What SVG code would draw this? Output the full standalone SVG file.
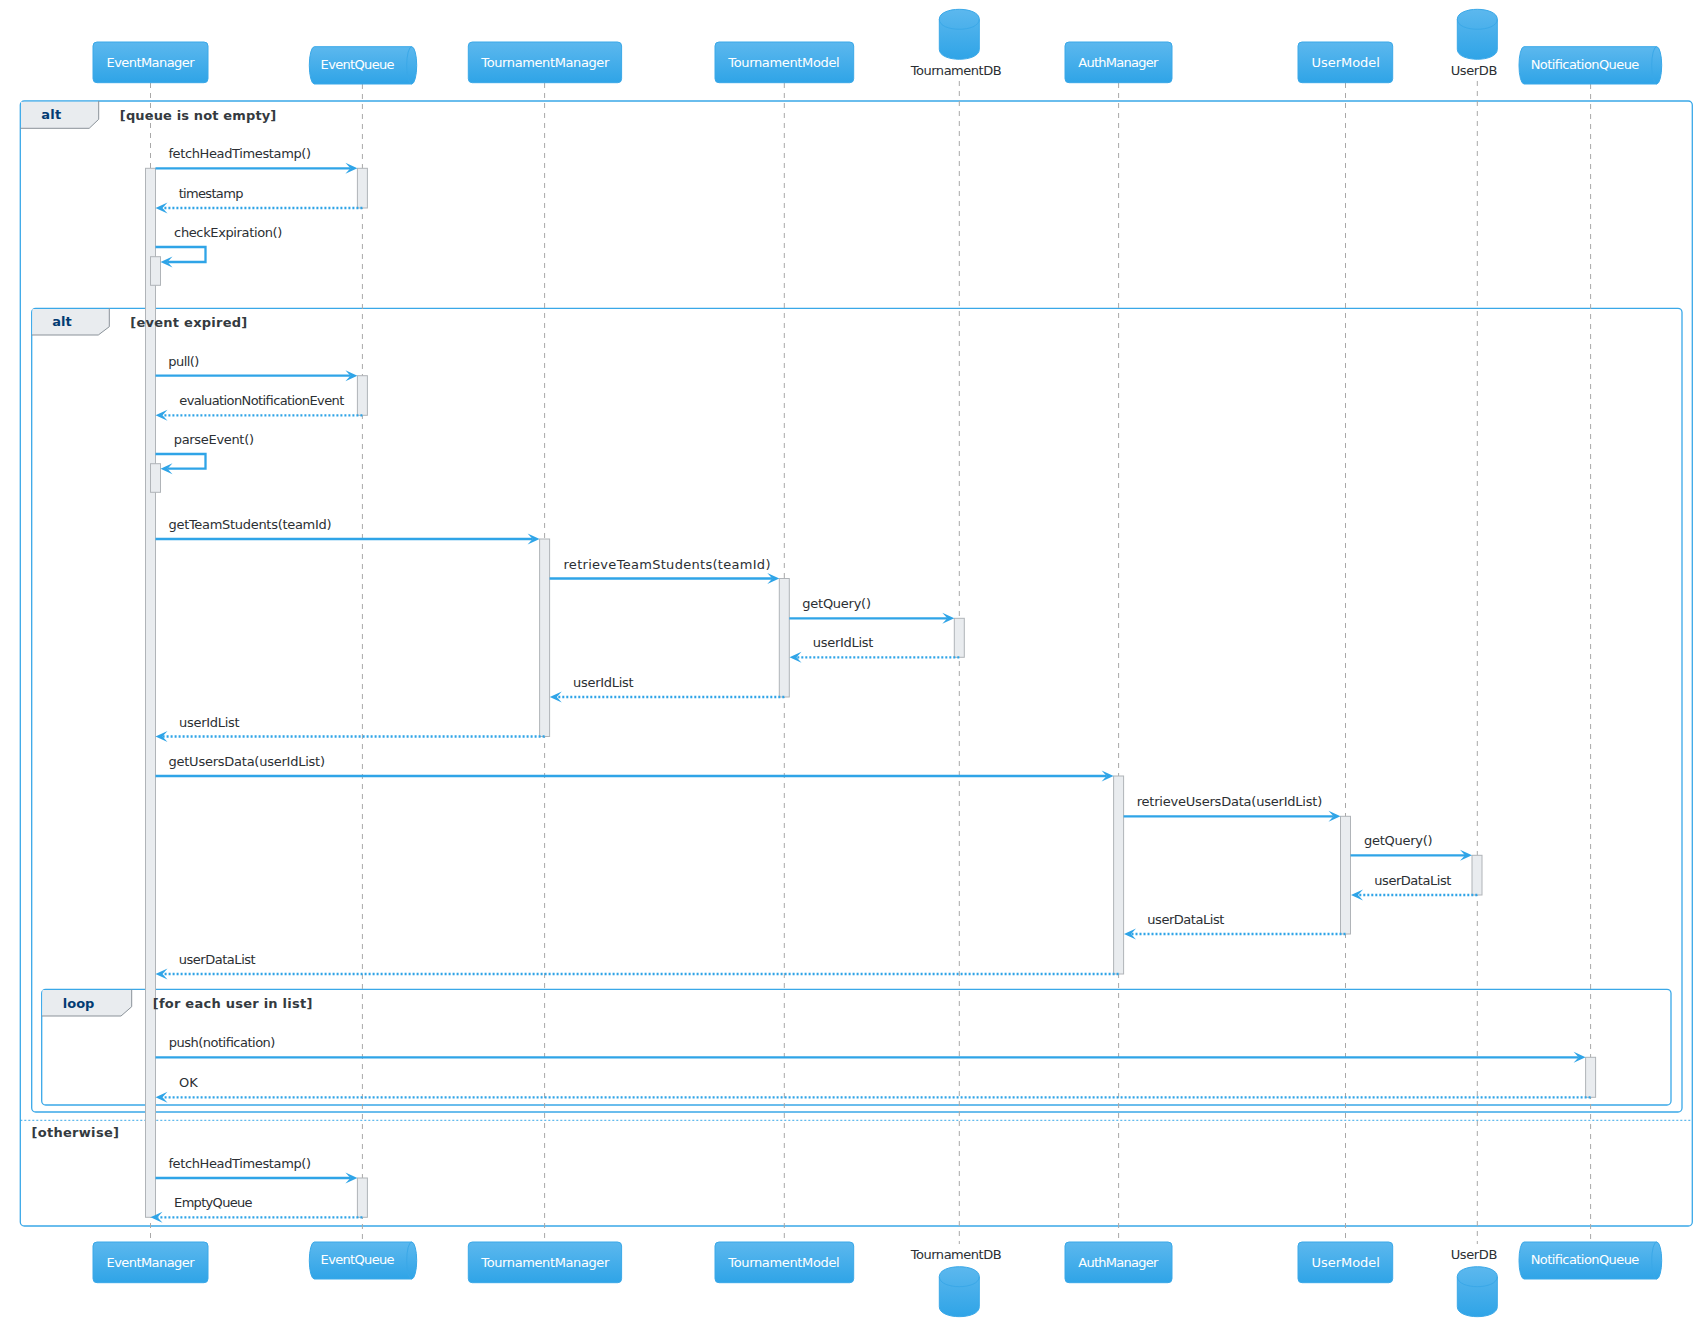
<svg xmlns="http://www.w3.org/2000/svg" width="1704" height="1337" viewBox="0 0 1704 1337">
<defs>
<linearGradient id="pg" x1="0" y1="0" x2="0" y2="1">
<stop offset="0" stop-color="#5cb8ee"/>
<stop offset="1" stop-color="#2fa4e7"/>
</linearGradient>
<marker id="ah" markerUnits="userSpaceOnUse" markerWidth="13" markerHeight="12" refX="5" refY="5.5" orient="auto" overflow="visible">
<path d="M0,0 L12,5.5 L0,11 L5,5.5 Z" fill="#2fa4e7"/>
</marker>
<style>
text{font-family:"DejaVu Sans","Liberation Sans",sans-serif;}
.m{font-size:13px;fill:#2b2f33;}
.pn{font-size:13px;fill:#ffffff;text-anchor:middle;}
.dn{font-size:13px;fill:#2b2f33;}
.fk{font-size:13px;font-weight:bold;fill:#033c73;}
.fg{font-size:13px;font-weight:bold;fill:#343a40;}
.box{fill:url(#pg);stroke:#3aa8e8;stroke-width:1;}
.inner{fill:none;stroke:#3aa8e8;stroke-width:1;}
.life{stroke:#a8a8a8;stroke-width:1;stroke-dasharray:5,5;fill:none;}
.act{fill:#e9ecef;stroke:#b0b4b8;stroke-width:1;}
.msg{stroke:#2fa4e7;stroke-width:2.3;fill:none;marker-end:url(#ah);}
.ret{stroke:#2fa4e7;stroke-width:2.3;fill:none;stroke-dasharray:2,2;marker-end:url(#ah);}
.frame{fill:none;stroke:#3aa8e8;stroke-width:1.3;}
.tab{fill:#e9ecef;stroke:none;}
.tabl{fill:none;stroke:#8a9299;stroke-width:1;}
.sep{stroke:#3aa8e8;stroke-width:1;stroke-dasharray:2,2;}
</style>
</defs>
<rect width="1704" height="1337" fill="#ffffff"/>

<g id="frames">
<rect class="frame" x="20.3" y="101" width="1672" height="1125" rx="4"/>
<polygon class="tab" points="21,101.7 98.7,101.7 98.7,119.3 89.2,128.3 21,128.3"/>
<path class="tabl" d="M20.3,128.3 H89.2 L98.7,119.3 V101"/>

<rect class="frame" x="31.7" y="308.3" width="1650.3" height="803.7" rx="4"/>
<polygon class="tab" points="32.4,309 109.3,309 109.3,326.7 98.3,335 32.4,335"/>
<path class="tabl" d="M31.7,335 H98.3 L109.3,326.7 V308.3"/>

<rect class="frame" x="41.7" y="989.3" width="1629.3" height="115.7" rx="4"/>
<polygon class="tab" points="42.4,990 131.7,990 131.7,1006.7 121,1016 42.4,1016"/>
<path class="tabl" d="M41.7,1016 H121 L131.7,1006.7 V989.3"/>

<line class="sep" x1="20.3" y1="1120.3" x2="1692.3" y2="1120.3"/>
</g>

<g id="lifelines">
<line class="life" x1="150.5" y1="83" x2="150.5" y2="1242"/>
<line class="life" x1="362.4" y1="84" x2="362.4" y2="1242"/>
<line class="life" x1="544.6" y1="83" x2="544.6" y2="1242"/>
<line class="life" x1="784.3" y1="83" x2="784.3" y2="1242"/>
<line class="life" x1="959.3" y1="81" x2="959.3" y2="1244"/>
<line class="life" x1="1118.6" y1="83" x2="1118.6" y2="1242"/>
<line class="life" x1="1345.5" y1="83" x2="1345.5" y2="1242"/>
<line class="life" x1="1477.3" y1="81" x2="1477.3" y2="1244"/>
<line class="life" x1="1590.6" y1="84" x2="1590.6" y2="1242"/>
</g>

<g id="activations">
<rect class="act" x="145.5" y="168.3" width="10" height="1049"/>
<rect class="act" x="150.5" y="256.7" width="10" height="28.6"/>
<rect class="act" x="150.5" y="463.7" width="10" height="28.6"/>
<rect class="act" x="357.4" y="168.3" width="10" height="39.7"/>
<rect class="act" x="357.4" y="375.7" width="10" height="39.6"/>
<rect class="act" x="357.4" y="1178" width="10" height="39.3"/>
<rect class="act" x="539.6" y="539" width="10" height="197.5"/>
<rect class="act" x="779.3" y="578.5" width="10" height="118.5"/>
<rect class="act" x="954.3" y="618.3" width="10" height="39"/>
<rect class="act" x="1113.6" y="776" width="10" height="198"/>
<rect class="act" x="1340.5" y="816.3" width="10" height="117.7"/>
<rect class="act" x="1472" y="855.3" width="10" height="39.7"/>
<rect class="act" x="1585.6" y="1057.3" width="10" height="40"/>
</g>

<g id="frame-labels">
<text class="fk" x="41.3" y="119" textLength="20" lengthAdjust="spacing">alt</text>
<text class="fg" x="119.8" y="119.5" textLength="156.5" lengthAdjust="spacing">[queue is not empty]</text>
<text class="fk" x="52.3" y="325.7" textLength="19.4" lengthAdjust="spacing">alt</text>
<text class="fg" x="130.3" y="326.5" textLength="117" lengthAdjust="spacing">[event expired]</text>
<text class="fk" x="62.7" y="1007.7" textLength="31.7" lengthAdjust="spacing">loop</text>
<text class="fg" x="152.7" y="1007.7" textLength="159.7" lengthAdjust="spacing">[for each user in list]</text>
<text class="fg" x="31.4" y="1137.3" textLength="87.6" lengthAdjust="spacing">[otherwise]</text>
</g>

<g id="connectors">
<line class="msg" x1="155.5" y1="168.3" x2="350.4" y2="168.3"/>
<text class="m" x="168.4" y="158.3" textLength="142.7" lengthAdjust="spacing">fetchHeadTimestamp()</text>
<line class="ret" x1="362.4" y1="208" x2="162.5" y2="208"/>
<text class="m" x="178.7" y="198" textLength="64.7" lengthAdjust="spacing">timestamp</text>
<path class="msg" d="M155.5,247 H205.5 V262 H167.5"/>
<text class="m" x="174.1" y="237" textLength="108.3" lengthAdjust="spacing">checkExpiration()</text>

<line class="msg" x1="155.5" y1="375.7" x2="350.4" y2="375.7"/>
<text class="m" x="168.3" y="365.7" textLength="31" lengthAdjust="spacing">pull()</text>
<line class="ret" x1="362.4" y1="415.3" x2="162.5" y2="415.3"/>
<text class="m" x="179.3" y="405.3" textLength="165" lengthAdjust="spacing">evaluationNotificationEvent</text>
<path class="msg" d="M155.5,454 H205.5 V468.7 H167.5"/>
<text class="m" x="173.7" y="444.3" textLength="80.3" lengthAdjust="spacing">parseEvent()</text>

<line class="msg" x1="155.5" y1="539" x2="532.6" y2="539"/>
<text class="m" x="168.5" y="529" textLength="163" lengthAdjust="spacing">getTeamStudents(teamId)</text>
<line class="msg" x1="549.6" y1="578.5" x2="772.3" y2="578.5"/>
<text class="m" x="563.5" y="568.5" textLength="207" lengthAdjust="spacing">retrieveTeamStudents(teamId)</text>
<line class="msg" x1="789.3" y1="618.3" x2="947.3" y2="618.3"/>
<text class="m" x="802.3" y="608.3" textLength="68.7" lengthAdjust="spacing">getQuery()</text>
<line class="ret" x1="959.3" y1="657.3" x2="796.5" y2="657.3"/>
<text class="m" x="812.7" y="647.3" textLength="60.7" lengthAdjust="spacing">userIdList</text>
<line class="ret" x1="784.3" y1="697" x2="556.8" y2="697"/>
<text class="m" x="573" y="687" textLength="60.7" lengthAdjust="spacing">userIdList</text>
<line class="ret" x1="544.6" y1="736.5" x2="162.5" y2="736.5"/>
<text class="m" x="179" y="726.5" textLength="60.7" lengthAdjust="spacing">userIdList</text>

<line class="msg" x1="155.5" y1="776" x2="1106.6" y2="776"/>
<text class="m" x="168.5" y="766" textLength="156.5" lengthAdjust="spacing">getUsersData(userIdList)</text>
<line class="msg" x1="1123.6" y1="816.3" x2="1333.5" y2="816.3"/>
<text class="m" x="1136.7" y="806" textLength="185.6" lengthAdjust="spacing">retrieveUsersData(userIdList)</text>
<line class="msg" x1="1350.5" y1="855.3" x2="1465" y2="855.3"/>
<text class="m" x="1364" y="845.3" textLength="68.5" lengthAdjust="spacing">getQuery()</text>
<line class="ret" x1="1477.3" y1="895" x2="1358" y2="895"/>
<text class="m" x="1374.3" y="885" textLength="77" lengthAdjust="spacing">userDataList</text>
<line class="ret" x1="1345.5" y1="934" x2="1131" y2="934"/>
<text class="m" x="1147.3" y="924" textLength="77" lengthAdjust="spacing">userDataList</text>
<line class="ret" x1="1118.6" y1="974" x2="162.5" y2="974"/>
<text class="m" x="178.7" y="964" textLength="77" lengthAdjust="spacing">userDataList</text>

<line class="msg" x1="155.5" y1="1057.3" x2="1578.6" y2="1057.3"/>
<text class="m" x="168.7" y="1047.3" textLength="106.7" lengthAdjust="spacing">push(notification)</text>
<line class="ret" x1="1590.6" y1="1097.3" x2="162.5" y2="1097.3"/>
<text class="m" x="179" y="1087.3">OK</text>

<line class="msg" x1="155.5" y1="1178" x2="350.4" y2="1178"/>
<text class="m" x="168.4" y="1168" textLength="142.7" lengthAdjust="spacing">fetchHeadTimestamp()</text>
<line class="ret" x1="362.4" y1="1217.3" x2="157.5" y2="1217.3"/>
<text class="m" x="174.1" y="1207.3" textLength="78.5" lengthAdjust="spacing">EmptyQueue</text>
</g>

<g id="EventManager">
<rect class="box" x="93" y="42" width="115" height="40.7" rx="4"/>
<text class="pn" x="150.5" y="66.7" textLength="88" lengthAdjust="spacing">EventManager</text>
<rect class="box" x="93" y="1242" width="115" height="40.7" rx="4"/>
<text class="pn" x="150.5" y="1266.7" textLength="88" lengthAdjust="spacing">EventManager</text>
</g>

<g id="EventQueue">
<path class="box" d="M314.3,46.7 H411.7 A5,18.65 0 0 1 411.7,84 H314.3 A5,18.65 0 0 1 314.3,46.7 Z"/>
<path class="inner" d="M411.7,46.7 A5,18.65 0 0 0 411.7,84"/>
<text class="pn" x="357.6" y="69.3" textLength="74" lengthAdjust="spacing">EventQueue</text>
<path class="box" d="M314.3,1242 H411.7 A5,18.5 0 0 1 411.7,1279 H314.3 A5,18.5 0 0 1 314.3,1242 Z"/>
<path class="inner" d="M411.7,1242 A5,18.5 0 0 0 411.7,1279"/>
<text class="pn" x="357.6" y="1264.3" textLength="74" lengthAdjust="spacing">EventQueue</text>
</g>

<g id="TournamentManager">
<rect class="box" x="468.3" y="42" width="153.3" height="40.7" rx="4"/>
<text class="pn" x="545.3" y="66.7" textLength="128" lengthAdjust="spacing">TournamentManager</text>
<rect class="box" x="468.3" y="1242" width="153.3" height="40.7" rx="4"/>
<text class="pn" x="545.3" y="1266.7" textLength="128" lengthAdjust="spacing">TournamentManager</text>
</g>

<g id="TournamentModel">
<rect class="box" x="715" y="42" width="138.7" height="40.7" rx="4"/>
<text class="pn" x="784" y="66.7" textLength="111.3" lengthAdjust="spacing">TournamentModel</text>
<rect class="box" x="715" y="1242" width="138.7" height="40.7" rx="4"/>
<text class="pn" x="784" y="1266.7" textLength="111.3" lengthAdjust="spacing">TournamentModel</text>
</g>

<g id="TournamentDB">
<path class="box" d="M939.3,19.3 C939.3,6 979.3,6 979.3,19.3 V49.3 C979.3,62.6 939.3,62.6 939.3,49.3 Z"/>
<path class="inner" d="M939.3,19.3 C939.3,32.6 979.3,32.6 979.3,19.3"/>
<text class="dn" x="956.2" y="75" text-anchor="middle" textLength="91" lengthAdjust="spacing">TournamentDB</text>
<text class="dn" x="956.2" y="1259.3" text-anchor="middle" textLength="91" lengthAdjust="spacing">TournamentDB</text>
<path class="box" d="M939.3,1276.7 C939.3,1263.4 979.3,1263.4 979.3,1276.7 V1306.7 C979.3,1320 939.3,1320 939.3,1306.7 Z"/>
<path class="inner" d="M939.3,1276.7 C939.3,1290 979.3,1290 979.3,1276.7"/>
</g>

<g id="AuthManager">
<rect class="box" x="1065" y="42" width="107" height="40.7" rx="4"/>
<text class="pn" x="1118.3" y="66.7" textLength="80" lengthAdjust="spacing">AuthManager</text>
<rect class="box" x="1065" y="1242" width="107" height="40.7" rx="4"/>
<text class="pn" x="1118.3" y="1266.7" textLength="80" lengthAdjust="spacing">AuthManager</text>
</g>

<g id="UserModel">
<rect class="box" x="1298" y="42" width="94.7" height="40.7" rx="4"/>
<text class="pn" x="1345.7" y="66.7" textLength="68.5" lengthAdjust="spacing">UserModel</text>
<rect class="box" x="1298" y="1242" width="94.7" height="40.7" rx="4"/>
<text class="pn" x="1345.7" y="1266.7" textLength="68.5" lengthAdjust="spacing">UserModel</text>
</g>

<g id="UserDB">
<path class="box" d="M1457.3,19.3 C1457.3,6 1497.3,6 1497.3,19.3 V49.3 C1497.3,62.6 1457.3,62.6 1457.3,49.3 Z"/>
<path class="inner" d="M1457.3,19.3 C1457.3,32.6 1497.3,32.6 1497.3,19.3"/>
<text class="dn" x="1474" y="75" text-anchor="middle" textLength="46.7" lengthAdjust="spacing">UserDB</text>
<text class="dn" x="1474" y="1259.3" text-anchor="middle" textLength="46.7" lengthAdjust="spacing">UserDB</text>
<path class="box" d="M1457.3,1276.7 C1457.3,1263.4 1497.3,1263.4 1497.3,1276.7 V1306.7 C1497.3,1320 1457.3,1320 1457.3,1306.7 Z"/>
<path class="inner" d="M1457.3,1276.7 C1457.3,1290 1497.3,1290 1497.3,1276.7"/>
</g>

<g id="NotificationQueue">
<path class="box" d="M1524,46.7 H1656.7 A5,18.65 0 0 1 1656.7,84 H1524 A5,18.65 0 0 1 1524,46.7 Z"/>
<path class="inner" d="M1656.7,46.7 A5,18.65 0 0 0 1656.7,84"/>
<text class="pn" x="1585" y="69.3" textLength="108.7" lengthAdjust="spacing">NotificationQueue</text>
<path class="box" d="M1524,1242 H1656.7 A5,18.5 0 0 1 1656.7,1279 H1524 A5,18.5 0 0 1 1524,1242 Z"/>
<path class="inner" d="M1656.7,1242 A5,18.5 0 0 0 1656.7,1279"/>
<text class="pn" x="1585" y="1264.3" textLength="108.7" lengthAdjust="spacing">NotificationQueue</text>
</g>
</svg>
